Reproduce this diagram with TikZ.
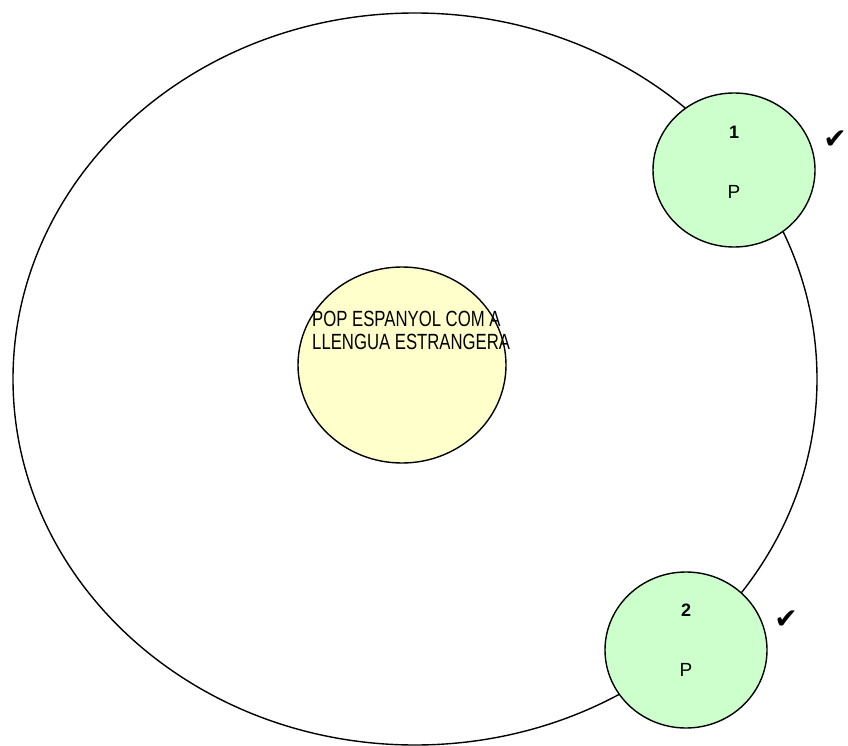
\documentclass[tikz,border=0pt]{standalone}
\usepackage{fontspec}
\setmainfont{Liberation Sans}
\newfontfamily\narrowfont[FakeStretch=0.76]{Liberation Sans}
\newfontfamily\symfont{DejaVu Sans}
\usetikzlibrary{shapes.geometric}
\definecolor{greenfill}{RGB}{204,255,204}
\definecolor{yellowfill}{RGB}{255,255,204}
\tikzset{
  blob/.style={ellipse, draw=black, line width=1.4pt, inner sep=0pt},
  lbl/.style={inner sep=0pt, font=\fontsize{19}{22}\selectfont},
  numlbl/.style={inner sep=0pt, font=\bfseries\fontsize{18}{22}\selectfont},
  tick/.style={inner sep=0pt, font=\symfont\fontsize{28}{30}\selectfont}
}
\begin{document}
\begin{tikzpicture}[x=1pt,y=-1pt]
\useasboundingbox (0,0) rectangle (848,746);
\node[blob, minimum width=804, minimum height=732] (outer) at (415,379) {};
\node[blob, fill=yellowfill, minimum width=208, minimum height=196] (core) at (402,365) {};
\node[inner sep=0pt, align=left, anchor=north west, font=\narrowfont\fontsize{22}{23}\selectfont] (title) at (312,311) {POP ESPANYOL COM A\\LLENGUA ESTRANGERA};
\node[blob, fill=greenfill, minimum width=162, minimum height=154] (g1) at (734,170) {};
\node[numlbl] (n1) at (734,132) {1};
\node[lbl] (p1) at (734,192) {P};
\node[tick] (c1) at (835,140) {✔};
\node[blob, fill=greenfill, minimum width=162, minimum height=156] (g2) at (686,650) {};
\node[numlbl] (n2) at (686,610) {2};
\node[lbl] (p2) at (686,670) {P};
\node[tick] (c2) at (786,620) {✔};
\end{tikzpicture}
\end{document}
